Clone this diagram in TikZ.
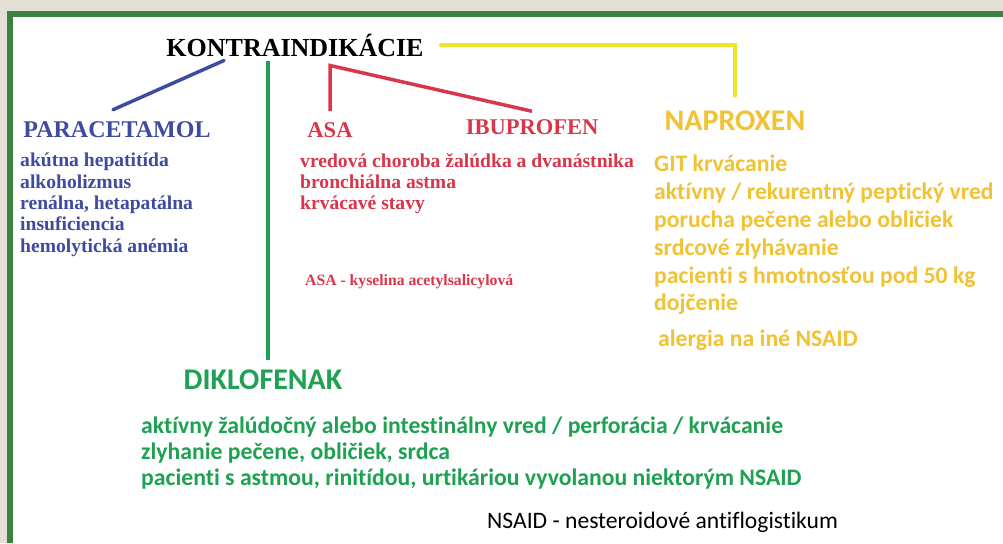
\documentclass[tikz,border=0pt]{standalone}
\usepackage{fontspec}
\setmainfont{Liberation Serif}
\newfontfamily\calibri[Ligatures=NoCommon]{Carlito}
\usetikzlibrary{positioning}
\definecolor{framegreen}{HTML}{3D8141}
\definecolor{paper}{HTML}{E4E0D5}
\definecolor{parablue}{HTML}{3F4B9E}
\definecolor{nsaidred}{HTML}{D8364B}
\definecolor{naproyellow}{HTML}{F1C232}
\definecolor{linkyellow}{HTML}{EFE52A}
\definecolor{diklogreen}{HTML}{1EA152}
\tikzset{
    drugserif/.style={
        inner sep=0pt,
        font=\bfseries\fontsize{22.5}{26}\selectfont
    },
    drugsans/.style={
        inner sep=0pt,
        font=\calibri\bfseries\fontsize{30}{34}\selectfont
    },
    serlist/.style={
        inner sep=0pt,
        align=left,
        anchor=north west,
        font=\bfseries\fontsize{19.6}{21.3}\selectfont
    },
    sanslist/.style={
        inner sep=0pt,
        align=left,
        anchor=north west,
        font=\calibri\bfseries\fontsize{23.7}{27.8}\selectfont
    },
    link/.style={
        line width=3.5pt,
        line cap=round
    },
    note/.style={inner sep=0pt, anchor=north west}
}

\begin{document}
\begin{tikzpicture}[x=1pt,y=-1pt]
\useasboundingbox (0,0) rectangle (1003,543);
% frame
\fill[paper] (0,0) rectangle (1003,543);
\fill[framegreen] (7,11) rectangle (1003,543);
\fill[white] (13,17) rectangle (1003,543);

\node[inner sep=0pt, font=\bfseries\fontsize{26}{30}\selectfont] (title) at (295,45) {KONTRAINDIKÁCIE};

% drugs
\node[drugserif, text=parablue, font=\bfseries\fontsize{24}{28}\selectfont] (paracetamol) at (117,130) {PARACETAMOL};
\node[drugserif, text=nsaidred] (asa) at (330,130) {ASA};
\node[drugserif, text=nsaidred] (ibuprofen) at (532,127) {IBUPROFEN};
\node[drugsans, text=naproyellow] (naproxen) at (735,121) {NAPROXEN};
\node[drugsans, text=diklogreen] (diklofenak) at (263,380) {DIKLOFENAK};

% lists
\node[serlist, text=parablue] (paralist) at (20,153)
    {akútna hepatitída\\alkoholizmus\\renálna, hetapatálna\\insuficiencia\\hemolytická anémia};
\node[serlist, text=nsaidred] (asalist) at (300,153)
    {vredová choroba žalúdka a dvanástnika\\bronchiálna astma\\krvácavé stavy};
\node[note, text=nsaidred, font=\bfseries\fontsize{15.7}{18}\selectfont] (asanote) at (305,274)
    {ASA - kyselina acetylsalicylová};
\node[sanslist, text=naproyellow] (naprolist) at (654,155)
    {GIT krvácanie\\aktívny / rekurentný peptický vred\\porucha pečene alebo obličiek\\srdcové zlyhávanie\\pacienti s hmotnosťou pod 50 kg\\dojčenie};
\node[sanslist, text=naproyellow, below right=15pt and 4pt of naprolist.south west, anchor=north west] (allergy)
    {alergia na iné NSAID};
\node[sanslist, text=diklogreen, font=\calibri\bfseries\fontsize{23.7}{26}\selectfont] (diklolist) at (141,417)
    {aktívny žalúdočný alebo intestinálny vred / perforácia / krvácanie\\zlyhanie pečene, obličiek, srdca\\pacienti s astmou, rinitídou, urtikáriou vyvolanou niektorým NSAID};
\node[note, font=\calibri\fontsize{23.6}{26}\selectfont] (nsaidnote) at (487,512)
    {NSAID - nesteroidové antiflogistikum};

% links
\draw[link, parablue] ([xshift=-71pt,yshift=-4pt]title.south) -- ([xshift=-4pt,yshift=12pt]paracetamol.north);
\draw[link, diklogreen, line cap=butt] ([xshift=-27pt,yshift=-5pt]title.south) -- ([xshift=5pt,yshift=10pt]diklofenak.north);
\draw[link, nsaidred, line cap=butt] ([yshift=11pt]asa.north) -- ([yshift=-9pt]asa.north |- title.south) -- ([yshift=8pt]ibuprofen.north);
\draw[link, linkyellow] ([xshift=17pt]title.east) -- (naproxen.north |- title.east) -- ([yshift=15pt]naproxen.north);
\end{tikzpicture}
\end{document}
